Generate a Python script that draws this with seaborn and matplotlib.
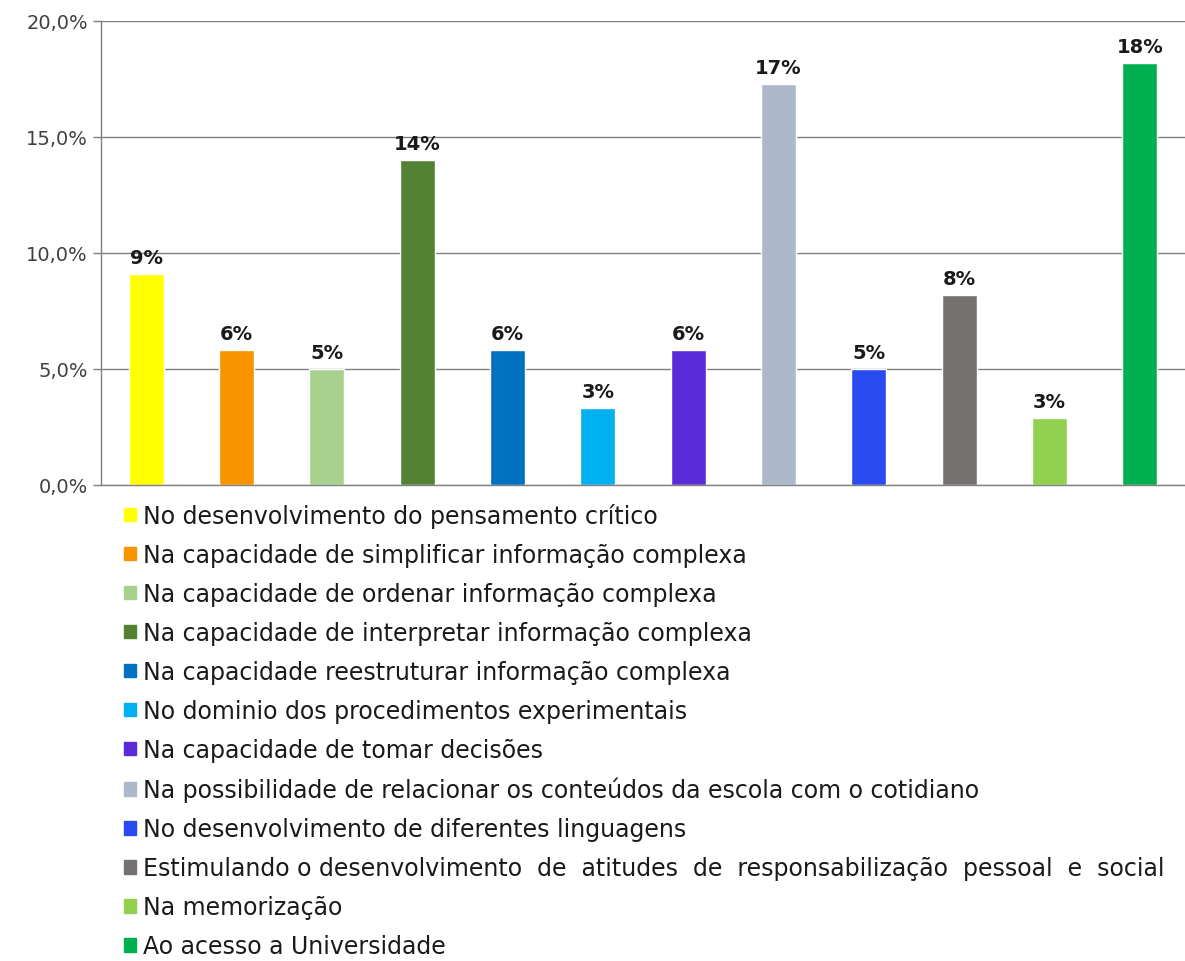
import matplotlib
matplotlib.use("Agg")
import matplotlib.pyplot as plt
import matplotlib.patches as mpatches
from matplotlib.ticker import FuncFormatter, MultipleLocator
import pandas as pd
import seaborn as sns

categories = [
    "No desenvolvimento do pensamento crítico",
    "Na capacidade de simplificar informação complexa",
    "Na capacidade de ordenar informação complexa",
    "Na capacidade de interpretar informação complexa",
    "Na capacidade reestruturar informação complexa",
    "No dominio dos procedimentos experimentais",
    "Na capacidade de tomar decisões",
    "Na possibilidade de relacionar os conteúdos da escola com o cotidiano",
    "No desenvolvimento de diferentes linguagens",
    "Estimulando o desenvolvimento  de  atitudes  de  responsabilização  pessoal  e  social",
    "Na memorização",
    "Ao acesso a Universidade",
]
values = [9.1, 5.8, 5.0, 14.0, 5.8, 3.3, 5.8, 17.3, 5.0, 8.2, 2.9, 18.2]
colors = [
    "#FFFF00", "#F79400", "#A9D18E", "#548235", "#0070C0", "#00B0F0",
    "#5B2BD9", "#ADB9CA", "#2B4BF2", "#767171", "#92D050", "#00B050",
]

df = pd.DataFrame({"categoria": categories, "valor": values})

sns.set_style("white")
plt.rcParams["font.family"] = ["DejaVu Sans"]

fig = plt.figure(figsize=(11.85, 9.62), dpi=100)
ax = fig.add_axes([101 / 1185, 1 - 486 / 962, 1 - 101 / 1185, (486 - 22) / 962])

sns.barplot(
    ax=ax,
    data=df,
    x="categoria",
    y="valor",
    hue="categoria",
    palette=colors,
    width=0.39,
    legend=False,
    saturation=1,
)

ax.set_ylim(0, 20)
ax.set_xlim(-0.5, len(categories) - 0.5)
ax.yaxis.set_major_locator(MultipleLocator(5))
ax.yaxis.set_major_formatter(FuncFormatter(lambda v, _: f"{v:.1f}%".replace(".", ",")))
ax.tick_params(axis="y", labelsize=14, colors="#808080", labelcolor="#404040",
               length=6, width=1, direction="out", left=True)
ax.set_xticks([])
ax.set(xlabel="", ylabel="")
ax.grid(axis="y", color="#808080", linewidth=1)
ax.set_axisbelow(True)
for side in ["top", "right"]:
    ax.spines[side].set_visible(False)
for side in ["left", "bottom"]:
    ax.spines[side].set_color("#808080")
    ax.spines[side].set_linewidth(1)

for container in ax.containers:
    ax.bar_label(
        container,
        labels=[f"{round(v)}%" for v in container.datavalues],
        padding=5,
        fontsize=14,
        fontweight="bold",
        color="#1a1a1a",
    )

handles = [mpatches.Patch(color=c, label=l) for c, l in zip(colors, categories)]
fig.legend(
    handles=handles,
    loc="upper left",
    bbox_to_anchor=(124 / 1185, 1 - 504 / 962),
    frameon=False,
    fontsize=17,
    handlelength=0.5,
    handleheight=0.5,
    handletextpad=0.3,
    labelspacing=0.635,
    borderaxespad=0,
    borderpad=0,
    labelcolor="#1a1a1a",
)

fig.savefig("out.png", dpi=100)
